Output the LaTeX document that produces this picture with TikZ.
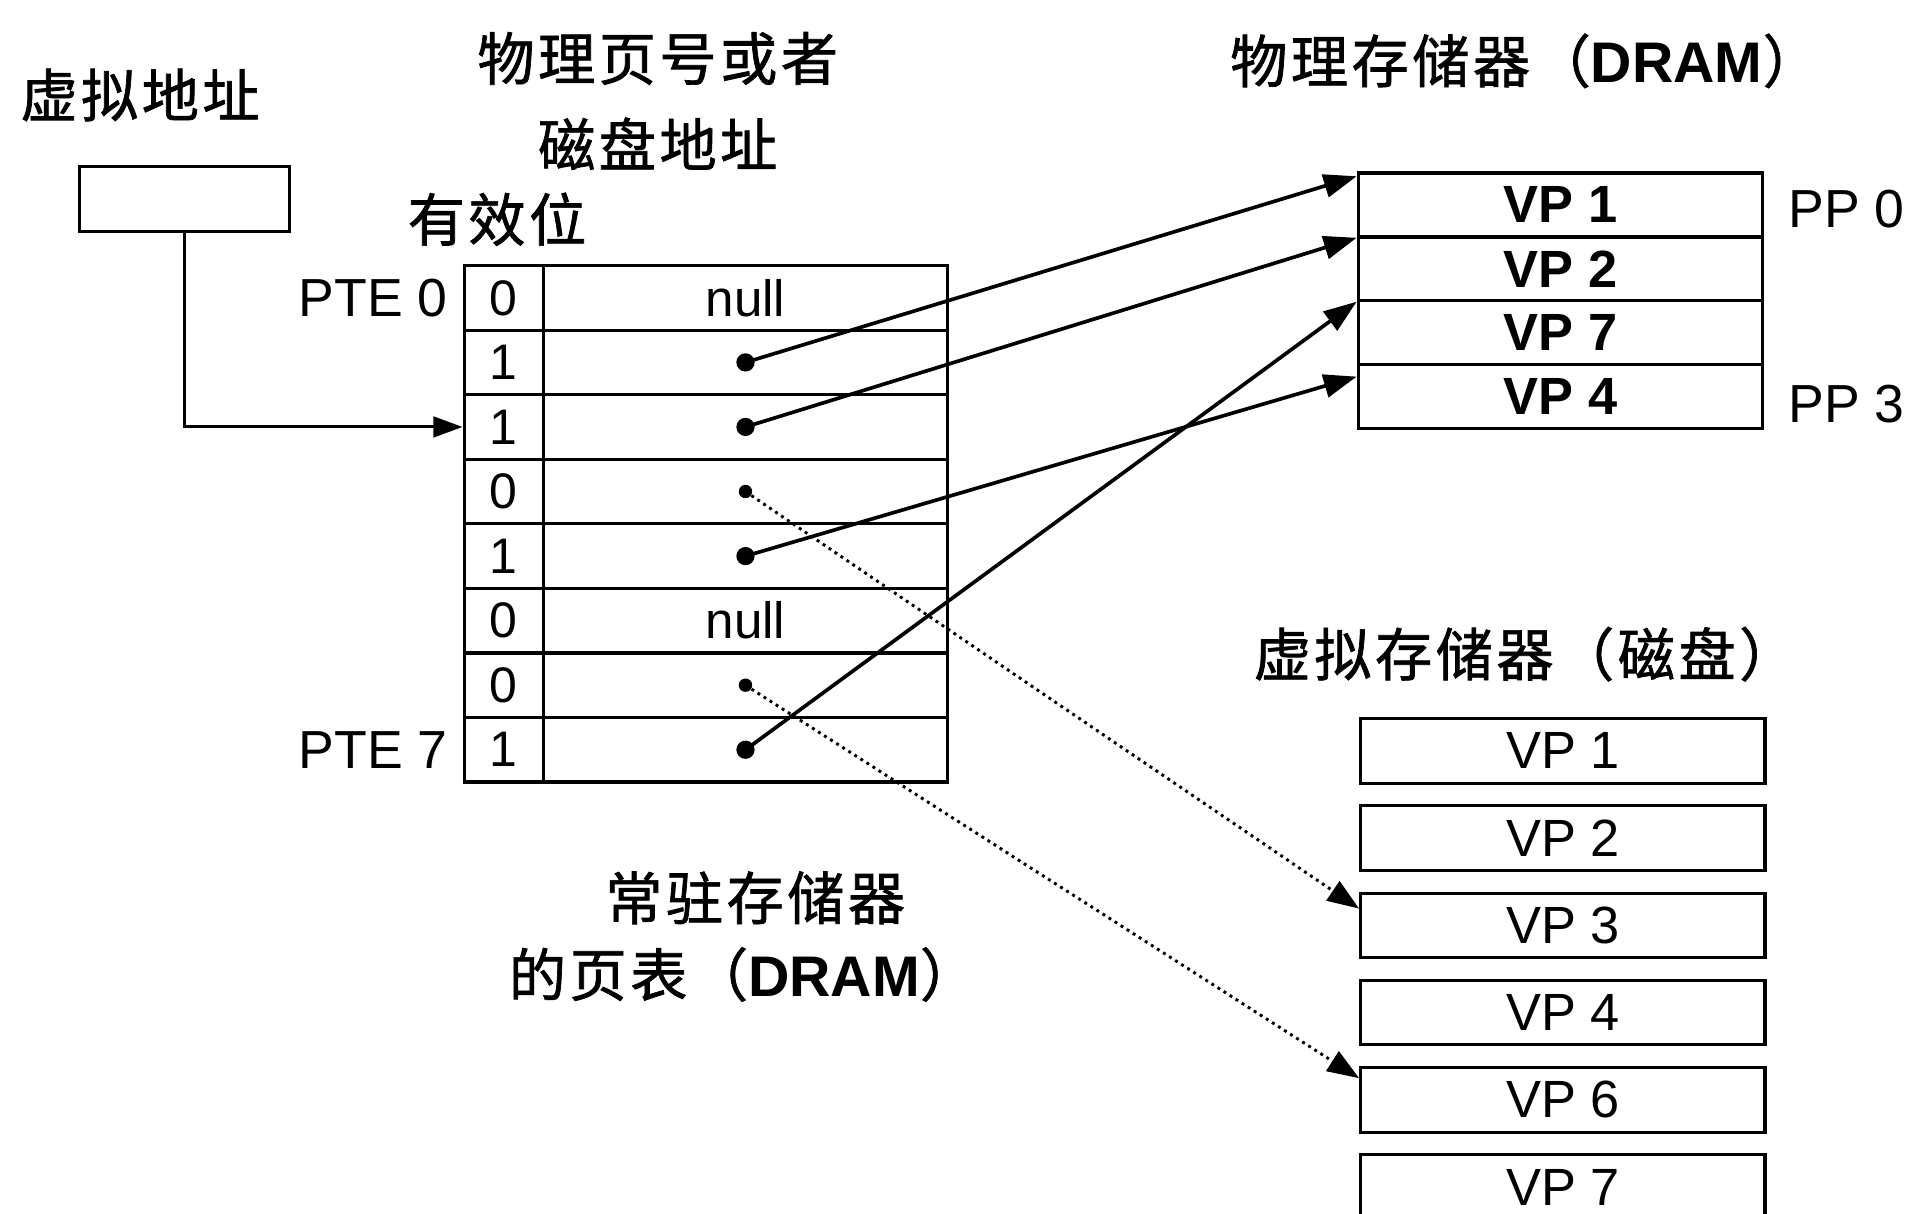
\documentclass[tikz,border=0pt]{standalone}
\usepackage{fontspec}
\setmainfont{Liberation Sans}
\newfontfamily\cjk[FakeBold=1.2,LetterSpace=6]{Noto Sans CJK SC}
\usetikzlibrary{arrows.meta}
\begin{document}
\begin{tikzpicture}[x=1pt,y=-1pt,
  box/.style={draw,line width=2.6pt,inner sep=0pt,minimum height=53pt,anchor=center},
  vcell/.style={box,minimum width=65pt,font=\fontsize{41}{44}\selectfont},
  dcell/.style={box,minimum width=332pt,font=\fontsize{42}{44}\selectfont},
  mcell/.style={box,minimum width=332pt,minimum height=52.5pt,font=\fontsize{43}{46}\selectfont\bfseries},
  kcell/.style={box,minimum width=332pt,font=\fontsize{43}{46}\selectfont},
  cjktxt/.style={font=\fontsize{47}{50}\selectfont\cjk,inner sep=0pt},
  lat/.style={font=\fontsize{44}{46}\selectfont,inner sep=0pt},
  ptrdot/.style={circle,fill,inner sep=0pt,minimum size=15pt},
  smalldot/.style={circle,fill,inner sep=0pt,minimum size=11pt},
  ptr/.style={line width=3pt,-{Triangle[length=27pt,width=19pt]}},
  dptr/.style={line width=2.4pt,dash pattern=on 2.4pt off 3.5pt,-{Triangle[length=26pt,width=19pt]}}
]
\useasboundingbox (0,0) rectangle (1568,996);
\clip (0,0) rectangle (1568,996);

% virtual address
\node[cjktxt] (lva) at (115,78) {虚拟地址};
\node[box,minimum width=173pt] (va) at (151.5,163.5) {};

% page table labels
\node[cjktxt] (lppn1) at (540,48) {物理页号或者};
\node[cjktxt] (lppn2) at (540,118) {磁盘地址};
\node[cjktxt] (lvalid) at (408,180) {有效位};

% page table
\foreach \i/\b/\t in {0/0/null,1/1/,2/1/,3/0/,4/1/,5/0/null,6/0/,7/1/}{
  \node[vcell] (v\i) at (413.5,244.5+53*\i) {\b};
  \node[dcell] (d\i) at (612,244.5+53*\i) {\t};
}
\node[lat,anchor=east] (pte0) at ([xshift=-12pt]v0.west) {PTE 0};
\node[lat,anchor=east] (pte7) at ([xshift=-12pt]v7.west) {PTE 7};

\node[ptrdot] (p1) at (d1.center) {};
\node[ptrdot] (p2) at (d2.center) {};
\node[smalldot] (p3) at (d3.center) {};
\node[ptrdot] (p4) at (d4.center) {};
\node[smalldot] (p6) at (d6.center) {};
\node[ptrdot] (p7) at (d7.center) {};

\node[cjktxt] (lpt1) at (620,737) {常驻存储器};
\node[cjktxt] (lpt2) at (610,800) {的页表（{\rmfamily\bfseries DRAM}）};

% physical memory
\node[cjktxt] (ldram) at (1252,50) {物理存储器（{\rmfamily\bfseries DRAM}）};
\foreach \i/\t in {0/VP 1,1/VP 2,2/VP 7,3/VP 4}{
  \node[mcell] (m\i) at (1281,168.25+52.5*\i) {\t};
}
\node[lat,anchor=west] (pp0) at (1468,172) {PP 0};
\node[lat,anchor=west] (pp3) at (1468,332) {PP 3};

% virtual memory (disk)
\node[cjktxt] (ldisk) at (1252,537) {虚拟存储器（磁盘）};
\foreach \i/\t in {0/VP 1,1/VP 2,2/VP 3,3/VP 4,4/VP 6,5/VP 7}{
  \node[kcell] (k\i) at (1283,616.5+71.6*\i) {\t};
}

% connectors
\draw[line width=2.4pt,-{Triangle[length=24pt,width=17pt]}] (va.south) |- (v2.west);

\coordinate[yshift=-4pt] (t1) at (m0.north west);
\coordinate[yshift=-2pt] (t2) at (m1.north west);
\coordinate[yshift=-2pt] (t3) at (m2.north west);
\coordinate[yshift=-11pt] (t4) at (m3.north west);
\coordinate[yshift=-14pt] (s3) at (k2.north west);
\coordinate[yshift=-10pt] (s6) at (k4.north west);

\draw[ptr] (p1.center) -- (t1);
\draw[ptr] (p2.center) -- (t2);
\draw[ptr] (p7.center) -- (t3);
\draw[ptr] (p4.center) -- (t4);
\draw[dptr] (p3.center) -- (s3);
\draw[dptr] (p6.center) -- (s6);
\end{tikzpicture}
\end{document}
